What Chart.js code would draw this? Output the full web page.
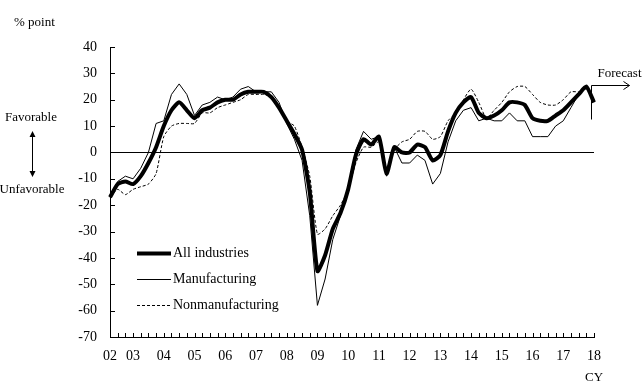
<!DOCTYPE html>
<html>
<head>
<meta charset="utf-8">
<script src="https://cdn.jsdelivr.net/npm/chart.js@4"></script>
<style>
html,body{margin:0;padding:0;background:#fff;}
#wrap{width:643px;height:385px;}
</style>
</head>
<body>
<div id="wrap"><canvas id="chartDI" width="643" height="385"></canvas></div>
<script>
// ===== quarters (survey months) =====
const quarters = [
  "Jun-02","Sep-02","Dec-02",
  "Mar-03","Jun-03","Sep-03","Dec-03",
  "Mar-04","Jun-04","Sep-04","Dec-04",
  "Mar-05","Jun-05","Sep-05","Dec-05",
  "Mar-06","Jun-06","Sep-06","Dec-06",
  "Mar-07","Jun-07","Sep-07","Dec-07",
  "Mar-08","Jun-08","Sep-08","Dec-08",
  "Mar-09","Jun-09","Sep-09","Dec-09",
  "Mar-10","Jun-10","Sep-10","Dec-10",
  "Mar-11","Jun-11","Sep-11","Dec-11",
  "Mar-12","Jun-12","Sep-12","Dec-12",
  "Mar-13","Jun-13","Sep-13","Dec-13",
  "Mar-14","Jun-14","Sep-14","Dec-14",
  "Mar-15","Jun-15","Sep-15","Dec-15",
  "Mar-16","Jun-16","Sep-16","Dec-16",
  "Mar-17","Jun-17","Sep-17","Dec-17",
  "Mar-18"
];

// year tick labels and the quarter each one sits on
const yearLabels = ["02","03","04","05","06","07","08","09","10","11","12","13","14","15","16","17","18"];
const yearAt = ["Jun-02","Mar-03","Mar-04","Mar-05","Mar-06","Mar-07","Mar-08","Mar-09","Mar-10",
                "Mar-11","Mar-12","Mar-13","Mar-14","Mar-15","Mar-16","Mar-17","Mar-18"];

// ===== series (% point) =====
const allIndustries = [
  -17,-12,-11,
  -12,-9,-4,2,
  10,16,19,16,
  13,16,17,19,
  20,20,22,23,
  23,23,21,17,
  12,7,1,-15,
  -45,-39,-29,-23,
  -14,-1,5,3,
  6,-8,2,0,
  0,3,2,-3,
  -1,8,15,19,
  21,15,13,14,
  16,19,19,18,
  13,12,12,14,
  16,19,22,25,
  19
];
const manufacturing = [
  -17,-11,-9,
  -10,-6,0,11,
  12,22,26,22,
  14,18,19,21,
  20,21,24,25,
  23,23,23,19,
  11,5,-3,-24,
  -58,-48,-33,-24,
  -14,1,8,5,
  6,-9,2,-4,
  -4,-1,-3,-12,
  -8,4,12,16,
  17,12,13,12,
  12,15,12,12,
  6,6,6,10,
  12,17,22,25,
  19
];
const nonmanufacturing = [
  -17,-14,-16,
  -14,-13,-12,-8,
  6,10,11,11,
  11,15,15,17,
  18,19,20,22,
  22,22,21,17,
  12,10,2,-9,
  -31,-29,-24,-20,
  -14,-4,2,2,
  4,-6,1,4,
  5,8,8,5,
  6,12,15,20,
  24,19,13,16,
  19,23,25,25,
  22,19,18,18,
  20,23,23,24,
  20
];
const seriesNames = ["All industries","Manufacturing","Nonmanufacturing"];

const FONT = "'Liberation Serif','Times New Roman',serif";

// ===== extra drawing: inward ticks, legend, notes =====
const decor = {
  id:"decor",
  afterDraw(chart){
    const {ctx, chartArea:a, scales:{x, y}} = chart;
    ctx.save();
    ctx.strokeStyle = "#000";
    ctx.fillStyle = "#000";
    ctx.lineWidth = 1;

    // tick marks pointing inside
    ctx.beginPath();
    x.ticks.forEach((t,i)=>{
      const px = Math.round(x.getPixelForTick(i)) + 0.5;
      ctx.moveTo(px, a.bottom);
      ctx.lineTo(px, a.bottom - 4);
    });
    y.ticks.forEach((t,i)=>{
      const py = Math.round(y.getPixelForTick(i)) + 0.5;
      ctx.moveTo(a.left, py);
      ctx.lineTo(a.left + 5, py);
    });
    ctx.stroke();

    // legend inside the plot
    ctx.font = "14px " + FONT;
    ctx.textBaseline = "middle";
    ctx.textAlign = "left";
    chart.data.datasets.forEach((ds,k)=>{
      const ly = Math.round(a.top + 206 + k*26) + 0.5;
      ctx.beginPath();
      ctx.lineWidth = ds.borderWidth;
      ctx.setLineDash(ds.borderDash || []);
      ctx.moveTo(a.left + 27, ly);
      ctx.lineTo(a.left + 61, ly);
      ctx.stroke();
      ctx.setLineDash([]);
      ctx.fillText(ds.label, a.left + 63, ly);
    });

    // forecast marker
    ctx.lineWidth = 1;
    const fx = Math.round(x.getPixelForValue(62.6)) + 0.5;
    const fTop = Math.round(y.getPixelForValue(25.5)) + 0.5;
    const fBot = y.getPixelForValue(12.5);
    const fEnd = fx + 38;
    ctx.beginPath();
    ctx.moveTo(fx, fBot);
    ctx.lineTo(fx, fTop);
    ctx.lineTo(fEnd, fTop);
    ctx.moveTo(fEnd - 6, fTop - 4);
    ctx.lineTo(fEnd, fTop);
    ctx.lineTo(fEnd - 6, fTop + 4);
    ctx.stroke();
    ctx.font = "13px " + FONT;
    ctx.fillText("Forecast", fx + 6, fTop - 12);

    // left notes
    ctx.fillText("% point", 14, 23);
    ctx.textAlign = "center";
    ctx.fillText("Favorable", 31, 118);
    ctx.fillText("Unfavorable", 32, 190);
    ctx.fillText("CY", 594, 378);

    // up/down arrow
    ctx.beginPath();
    ctx.moveTo(32.5, 134);
    ctx.lineTo(32.5, 174);
    ctx.stroke();
    ctx.beginPath();
    ctx.moveTo(32.5, 131); ctx.lineTo(29.5, 137); ctx.lineTo(35.5, 137); ctx.closePath();
    ctx.moveTo(32.5, 177); ctx.lineTo(29.5, 171); ctx.lineTo(35.5, 171); ctx.closePath();
    ctx.fill();

    ctx.restore();
  }
};

new Chart(document.getElementById("chartDI").getContext("2d"),{
  type:"line",
  data:{
    labels:quarters,
    datasets:[
      {label:seriesNames[0], data:allIndustries, borderColor:"#000", borderWidth:4, pointRadius:0, tension:0.2, fill:false},
      {label:seriesNames[1], data:manufacturing, borderColor:"#000", borderWidth:1, pointRadius:0, tension:0, fill:false},
      {label:seriesNames[2], data:nonmanufacturing, borderColor:"#000", borderWidth:1, borderDash:[3,2], pointRadius:0, tension:0.2, fill:false}
    ]
  },
  options:{
    responsive:false,
    animation:false,
    devicePixelRatio:1,
    layout:{ padding:{ top:47, right:49, bottom:0, left:0 } },
    plugins:{
      legend:{ display:false },
      tooltip:{ enabled:false }
    },
    scales:{
      x:{
        type:"category",
        offset:false,
        grid:{ display:false },
        border:{ display:true, color:"#000", width:1 },
        ticks:{
          autoSkip:false,
          maxRotation:0,
          padding:3,
          color:"#000",
          font:{ family:FONT, size:14 },
          callback:function(value){
            const k = yearAt.indexOf(this.getLabelForValue(value));
            return k >= 0 ? yearLabels[k] : "";
          }
        },
        afterFit:(scale)=>{ scale.height = 48; }
      },
      y:{
        min:-70, max:40,
        grid:{
          drawTicks:false,
          color:(c)=> (c.tick && c.tick.value === 0) ? "#000" : "rgba(0,0,0,0)",
          lineWidth:1
        },
        border:{ display:true, color:"#000", width:1 },
        ticks:{
          stepSize:10,
          padding:13,
          color:"#000",
          font:{ family:FONT, size:14 }
        },
        afterFit:(scale)=>{ scale.width = 110; }
      }
    }
  },
  plugins:[decor]
});
</script>
</body>
</html>
